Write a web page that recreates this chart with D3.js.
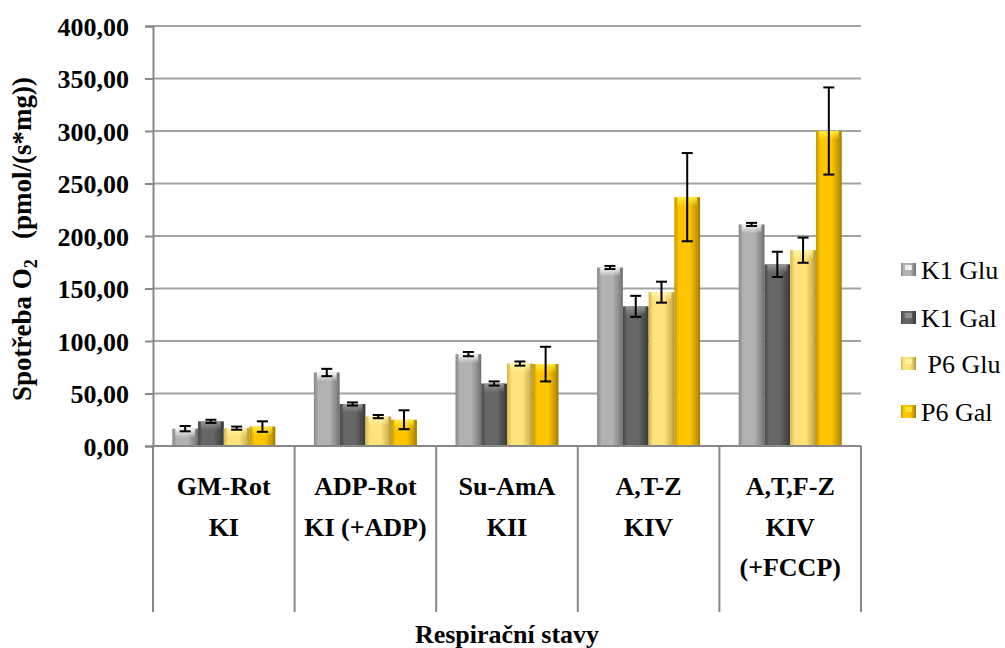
<!DOCTYPE html>
<html>
<head>
<meta charset="utf-8">
<script src="https://cdn.jsdelivr.net/npm/d3@7"></script>
</head>
<body style="margin:0;background:#fff">
<div id="chart"></div>
<script>
const categories = ['GM-Rot', 'ADP-Rot', 'Su-AmA', 'A,T-Z', 'A,T,F-Z'];
const states = [['KI'], ['KI (+ADP)'], ['KII'], ['KIV'], ['KIV', '(+FCCP)']];
const series = ['K1 Glu', 'K1 Gal', ' P6 Glu', 'P6 Gal'];
const k1Glu = [16.5, 70, 87.5, 170, 211];
const k1Gal = [23.5, 40, 59.5, 133, 173];
const p6Glu = [17, 28, 78.5, 146.5, 186.5];
const p6Gal = [18.5, 25, 78, 237, 300];
const k1GluErr = [2.5, 3.5, 2, 1.5, 1.5];
const k1GalErr = [1.5, 1.5, 2, 10, 12];
const p6GluErr = [1.5, 1.5, 2, 10, 12];
const p6GalErr = [5, 9, 16.5, 42, 41.5];
const yTicks = [0, 50, 100, 150, 200, 250, 300, 350, 400];

const values = [k1Glu, k1Gal, p6Glu, p6Gal];
const errors = [k1GluErr, k1GalErr, p6GluErr, p6GalErr];
const colors = [
  { edge: '#878787', mid: '#b2b2b2', top: '#ffffff' },
  { edge: '#474747', mid: '#666666', top: '#9a9a9a' },
  { edge: '#d4b650', mid: '#ffe27a', top: '#fff7b0' },
  { edge: '#c49600', mid: '#ffc500', top: '#ffef40' }
];
const FONT = "'Liberation Serif', Tinos, 'DejaVu Serif'";

const width = 1005, height = 648;
const svg = d3.select('#chart').append('svg')
  .attr('width', width).attr('height', height);

// helper: every text gets the serif font inline
function txt(parent) {
  return parent.append('text').style('font-family', FONT).attr('font-family', 'Liberation Serif');
}

const defs = svg.append('defs');
colors.forEach((c, i) => {
  const g = defs.append('linearGradient').attr('id', 'side' + i)
    .attr('x1', 0).attr('x2', 1).attr('y1', 0).attr('y2', 0);
  g.append('stop').attr('offset', '0%').attr('stop-color', c.edge);
  g.append('stop').attr('offset', '18%').attr('stop-color', c.mid);
  g.append('stop').attr('offset', '60%').attr('stop-color', c.mid);
  g.append('stop').attr('offset', '88%').attr('stop-color', c.edge);
  g.append('stop').attr('offset', '100%').attr('stop-color', d3.color(c.edge).darker(0.6));
  const t = defs.append('linearGradient').attr('id', 'top' + i)
    .attr('x1', 0).attr('x2', 0).attr('y1', 0).attr('y2', 1);
  t.append('stop').attr('offset', '0%').attr('stop-color', c.top).attr('stop-opacity', 0.95);
  t.append('stop').attr('offset', '100%').attr('stop-color', c.top).attr('stop-opacity', 0);
});

const x0 = d3.scaleBand().domain(categories).range([153, 861]);
const x1 = d3.scaleBand().domain(series).range([0, x0.bandwidth()]).paddingOuter(0.75);
const y = d3.scaleLinear().domain([0, 400]).range([446, 26]);

// gridlines
svg.append('g').selectAll('line').data(yTicks.slice(1)).join('line')
  .attr('x1', 153).attr('x2', 861)
  .attr('y1', d => y(d)).attr('y2', d => y(d))
  .attr('stroke', '#a3a3a3').attr('stroke-width', 2);

// bars
const bars = [];
categories.forEach((c, ci) => {
  series.forEach((s, si) => {
    bars.push({ c, s, si, v: values[si][ci], e: errors[si][ci] });
  });
});

const bg = svg.append('g');
bg.selectAll('rect.bar').data(bars).join('rect').attr('class', 'bar')
  .attr('x', d => x0(d.c) + x1(d.s))
  .attr('y', d => y(d.v))
  .attr('width', x1.bandwidth())
  .attr('height', d => y(0) - y(d.v))
  .attr('fill', d => `url(#side${d.si})`);
bg.selectAll('rect.topb').data(bars).join('rect').attr('class', 'topb')
  .attr('x', d => x0(d.c) + x1(d.s) + 3)
  .attr('y', d => y(d.v))
  .attr('width', x1.bandwidth() - 6)
  .attr('height', d => Math.min(9, y(0) - y(d.v)))
  .attr('fill', d => `url(#top${d.si})`);

// error bars
const eg = svg.append('g').attr('stroke', '#000').attr('stroke-width', 2);
bars.forEach(d => {
  const cx = x0(d.c) + x1(d.s) + x1.bandwidth() / 2;
  eg.append('line').attr('x1', cx).attr('x2', cx)
    .attr('y1', y(d.v + d.e)).attr('y2', y(d.v - d.e));
  [d.v + d.e, d.v - d.e].forEach(v => {
    eg.append('line').attr('x1', cx - 5.5).attr('x2', cx + 5.5)
      .attr('y1', y(v)).attr('y2', y(v));
  });
});

// y axis
const yAxis = d3.axisLeft(y).tickValues(yTicks).tickSize(8)
  .tickFormat(d => d3.format('.2f')(d).replace('.', ','));
const ya = svg.append('g').attr('transform', 'translate(153,0)').call(yAxis)
  .attr('font-family', null).attr('font-size', null);
ya.select('.domain').attr('stroke', '#878787').attr('stroke-width', 2);
ya.selectAll('.tick line').attr('stroke', '#878787').attr('stroke-width', 2);
ya.selectAll('.tick text')
  .attr('x', -24).attr('dy', '0.35em')
  .style('font-family', FONT)
  .attr('font-size', 26).attr('font-weight', 'bold').attr('fill', '#000');

// x axis line and category table
svg.append('line').attr('x1', 152).attr('x2', 861).attr('y1', 446).attr('y2', 446)
  .attr('stroke', '#878787').attr('stroke-width', 2);
const bounds = categories.map(c => x0(c)).concat([x0.range()[1]]);
svg.append('g').selectAll('line').data(bounds).join('line')
  .attr('x1', d => d).attr('x2', d => d)
  .attr('y1', 446).attr('y2', 612)
  .attr('stroke', '#878787').attr('stroke-width', 2);

const lab = svg.append('g');
categories.forEach((c, ci) => {
  const cx = x0(c) + x0.bandwidth() / 2;
  txt(lab).attr('x', cx).attr('y', 495)
    .attr('text-anchor', 'middle').attr('font-size', 26).attr('font-weight', 'bold')
    .text(c);
  states[ci].forEach((t, li) => {
    txt(lab).attr('x', cx).attr('y', 536 + li * 40)
      .attr('text-anchor', 'middle').attr('font-size', 26).attr('font-weight', 'bold')
      .text(t);
  });
});

// axis titles
txt(svg).attr('x', 507).attr('y', 643)
  .attr('text-anchor', 'middle').attr('font-size', 26).attr('font-weight', 'bold')
  .text('Respirační stavy');

const yt = txt(svg)
  .attr('transform', 'translate(31,239) rotate(-90)')
  .attr('text-anchor', 'middle').attr('font-size', 27).attr('font-weight', 'bold');
yt.append('tspan').text('Spotřeba O');
yt.append('tspan').attr('font-size', 18).attr('dy', 6).text('2');
yt.append('tspan').attr('dy', -6).text('\u00a0\u00a0\u00a0(pmol/(s*mg))');

// legend
const ly = [270, 318, 364, 412];
const lg = svg.append('g');
series.forEach((s, i) => {
  const g = lg.append('g').attr('transform', `translate(901,${ly[i]})`);
  g.append('rect').attr('x', 0).attr('y', -7).attr('width', 15).attr('height', 13)
    .attr('fill', `url(#side${i})`);
  g.append('rect').attr('x', 4).attr('y', -5).attr('width', 7).attr('height', 5)
    .attr('fill', colors[i].top).attr('opacity', 0.8);
  txt(g).attr('x', 20).attr('dy', '0.35em')
    .attr('font-size', 26).text(s.replace(' ', '\u00a0'));
});
</script>
</body>
</html>
